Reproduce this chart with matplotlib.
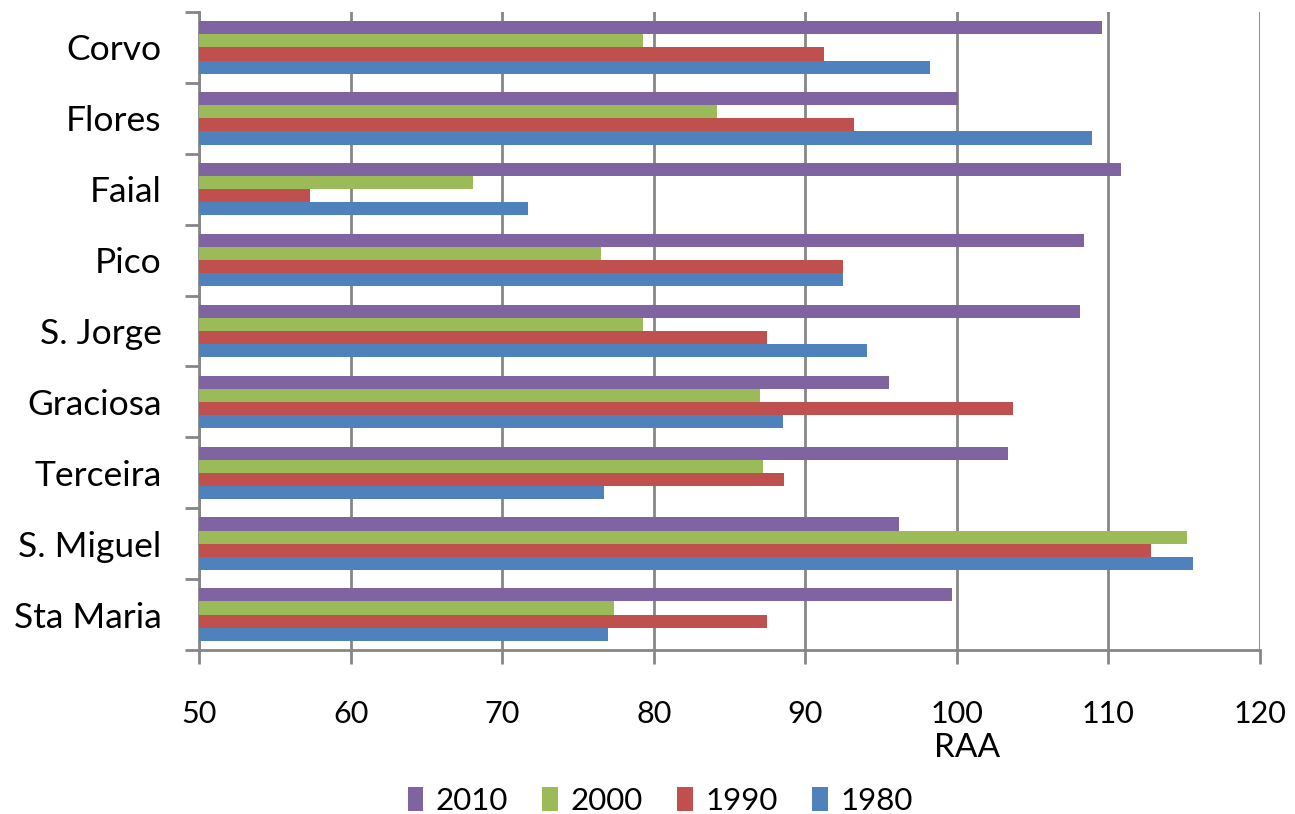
import matplotlib.pyplot as plt
import numpy as np

plt.rcParams['font.family'] = ['Lato', 'DejaVu Sans']

# ilhas, de baixo para cima
ilhas = ['Sta Maria', 'S. Miguel', 'Terceira', 'Graciosa', 'S. Jorge',
         'Pico', 'Faial', 'Flores', 'Corvo']
v1980 = [77.0, 115.6, 76.7, 88.5, 94.1, 92.5, 71.7, 108.9, 98.2]
v1990 = [87.5, 112.8, 88.6, 103.7, 87.5, 92.5, 57.3, 93.2, 91.2]
v2000 = [77.4, 115.2, 87.2, 87.0, 79.3, 76.5, 68.1, 84.2, 79.3]
v2010 = [99.7, 96.2, 103.4, 95.5, 108.1, 108.4, 110.8, 100.1, 109.6]

series = [('1980', v1980, '#4F81BD'),
          ('1990', v1990, '#C0504D'),
          ('2000', v2000, '#9BBB59'),
          ('2010', v2010, '#8064A2')]

fig = plt.figure(figsize=(12.95, 8.14), dpi=100)
ax = fig.add_axes([0.1537, 0.2015, 0.8193, 0.7838])

y = np.arange(len(ilhas))
h = 0.185
base = 50
for i, (nome, vals, cor) in enumerate(series):
    off = (i - 1.5) * h
    ax.barh(y + off, np.array(vals) - base, height=h, left=base,
            color=cor, label=nome, zorder=3)

ax.set_xlim(50, 120)
ax.set_ylim(-0.5, len(ilhas) - 0.5)
ax.set_xticks(np.arange(50, 121, 10))
ax.set_yticks(y)
ax.set_yticklabels(ilhas)
ax.set_yticks(np.arange(-0.5, len(ilhas), 1), minor=True)

ax.grid(axis='x', color='#868686', linewidth=2, zorder=0)
for s in ['top', 'right']:
    ax.spines[s].set_visible(False)
for s in ['left', 'bottom']:
    ax.spines[s].set_color('#868686')
    ax.spines[s].set_linewidth(2)

ax.tick_params(axis='x', length=10, width=2, color='#868686', pad=26,
               labelsize=22)
ax.tick_params(axis='y', which='major', length=0, pad=27, labelsize=25.5)
ax.tick_params(axis='y', which='minor', length=10, width=2, color='#868686')

fig.text(967 / 1295, 1 - 748 / 814, 'RAA', ha='center', va='center',
         fontsize=24)

handles, labels = ax.get_legend_handles_labels()
fig.legend(handles[::-1], labels[::-1], loc='center', ncol=4,
           bbox_to_anchor=(660 / 1295, 1 - 801 / 814), frameon=False,
           fontsize=22.5, handlelength=0.5, handleheight=0.8,
           handletextpad=0.4, columnspacing=1.1)

fig.savefig('out.png', dpi=100)
